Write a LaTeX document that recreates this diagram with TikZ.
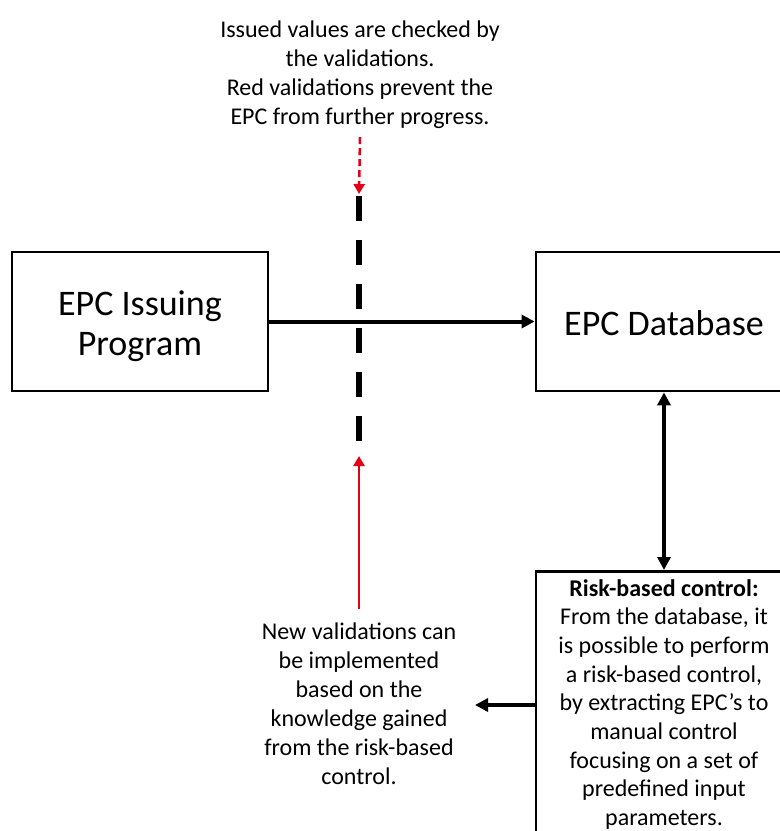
\documentclass[tikz,border=0pt]{standalone}
\usepackage{fontspec}
\setmainfont{Carlito}
\usetikzlibrary{arrows.meta}
\definecolor{alertred}{RGB}{228,0,20}
\begin{document}
\begin{tikzpicture}[x=1pt,y=-1pt,
  box/.style={draw, line width=2.8pt, minimum width=256pt, minimum height=139pt, inner sep=0pt},
  boxtext/.style={align=center, inner sep=0pt, font=\fontsize{36}{40}\selectfont},
  note/.style={align=center, inner sep=0pt, font=\fontsize{24}{29}\selectfont},
  flow/.style={line width=4pt, -{Triangle[length=13pt,width=13pt]}},
  twoway/.style={line width=4pt, {Triangle[length=13pt,width=13pt]}-{Triangle[length=13pt,width=13pt]}},
  barrier/.style={line width=6pt, dash pattern=on 25pt off 19pt},
  hint/.style={alertred, line width=2.5pt, -{Triangle[length=10pt,width=11pt]}},
]
\useasboundingbox (0,0) rectangle (780,831);

% main blocks
\node[box] (issuer) at (140,321.5) {};
\node[boxtext] (issuerText) at (140,326) {EPC Issuing\\Program};
\node[box] (db) at (664,321.5) {};
\node[boxtext] (dbText) at (664,323) {EPC Database};
\node[box, anchor=north, minimum height=300pt] (risk) at (664,570) {};
\node[anchor=north, inner sep=0pt, align=center, font=\fontsize{24}{28.7}\selectfont]
  (riskText) at (664,579)
  {\textbf{Risk-based control:}\\From the database, it\\is possible to perform\\
   a risk-based control,\\by extracting EPC’s to\\manual control\\
   focusing on a set of\\predefined input\\parameters.};

% annotations
\node[note, anchor=north] (checks) at (360,21)
  {Issued values are checked by\\the validations.\\Red validations prevent the\\EPC from further progress.};
\node[note, anchor=north] (newval) at (359,623)
  {New validations can\\be implemented\\based on the\\knowledge gained\\from the risk-based\\control.};

% validation barrier
\coordinate (gateTop) at (359,196);
\coordinate (gateBot) at (359,441);
\draw[barrier] (gateTop) -- (gateBot);

% flows
\draw[flow] (issuer) -- (db);
\draw[twoway] (db) -- (risk);
\coordinate (feedback) at (475,705);
\draw[flow] (risk.west |- feedback) -- (feedback);

% red hints
\coordinate (topTip) at (359,194);
\draw[hint, dash pattern=on 7pt off 4pt] ([yshift=-8pt]checks.south) -- (topTip);
\coordinate (lowTip) at (359,456);
\draw[hint] ([yshift=14pt]newval.north) -- (lowTip);
\end{tikzpicture}
\end{document}
